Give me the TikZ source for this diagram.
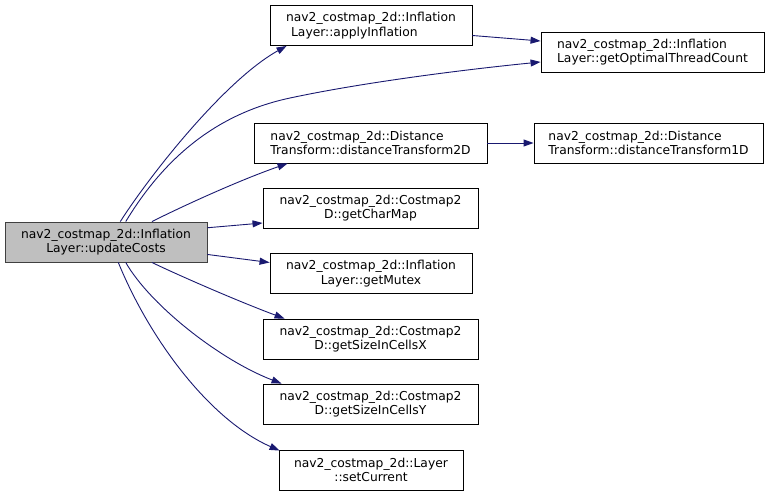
\documentclass[tikz,border=0pt]{standalone}
\usepackage{fontspec}
\setmainfont{DejaVu Sans}
\usetikzlibrary{arrows.meta}
\definecolor{edgeblue}{HTML}{191970}
\definecolor{mainfill}{HTML}{BFBFBF}
\definecolor{mainline}{HTML}{404040}
\begin{document}
\begin{tikzpicture}[x=1pt,y=-1pt,
  box/.style={draw=black,fill=white,line width=0.9pt,inner sep=0pt,
    font=\fontsize{12.3}{14.5}\selectfont},
  mainbox/.style={box,draw=mainline,fill=mainfill},
  edge/.style={draw=edgeblue,line width=0.9pt,-{Triangle[length=10pt,width=7pt]}}]
\useasboundingbox (0,0) rectangle (775,496);
% nodes
\node[mainbox,minimum width=202pt,minimum height=40pt,align=center] (main) at (106,242)
  {nav2\_costmap\_2d::Inflation\\Layer::updateCosts};
\node[box,minimum width=202pt,minimum height=40pt,align=left] (apply) at (371,25.5)
  {nav2\_costmap\_2d::Inflation\\\hspace{5pt}Layer::applyInflation};
\node[box,minimum width=223pt,minimum height=40pt,align=left] (opt) at (652.5,52)
  {nav2\_costmap\_2d::Inflation\\Layer::getOptimalThreadCount};
\node[box,minimum width=233pt,minimum height=40pt,align=left] (dtwo) at (370.5,143)
  {nav2\_costmap\_2d::Distance\\Transform::distanceTransform2D};
\node[box,minimum width=229pt,minimum height=40pt,align=left] (done) at (648.5,143)
  {nav2\_costmap\_2d::Distance\\Transform::distanceTransform1D};
\node[box,minimum width=215pt,minimum height=40pt,align=center] (charmap) at (370.5,208)
  {nav2\_costmap\_2d::Costmap2\\D::getCharMap};
\node[box,minimum width=202pt,minimum height=40pt,align=center] (mutex) at (371,273.5)
  {nav2\_costmap\_2d::Inflation\\Layer::getMutex};
\node[box,minimum width=215pt,minimum height=40pt,align=center] (sizex) at (370.5,339)
  {nav2\_costmap\_2d::Costmap2\\D::getSizeInCellsX};
\node[box,minimum width=215pt,minimum height=40pt,align=center] (sizey) at (370.5,404)
  {nav2\_costmap\_2d::Costmap2\\D::getSizeInCellsY};
\node[box,minimum width=184pt,minimum height=40pt,align=center] (setcur) at (371,470)
  {nav2\_costmap\_2d::Layer\\::setCurrent};
% edges
\draw[edge] (main.55) .. controls (150,175) and (225,80) .. ([xshift=17pt]apply.south west);
\draw[edge] (main.46) .. controls (160,165) and (210,115) .. (290,98)
  .. controls (360,83) and (460,70) .. ([yshift=-10pt]opt.west);
\draw[edge] (main.24) .. controls (185,205) and (240,180) .. ([xshift=34pt]dtwo.south west);
\draw[edge] (main.8) -- ([yshift=-15pt]charmap.west);
\draw[edge] (main.-7) -- ([yshift=11pt]mutex.west);
\draw[edge] (main.-24) .. controls (180,276) and (240,302) .. ([xshift=22pt]sizex.north west);
\draw[edge] (main.-46) .. controls (150,305) and (220,360) .. ([xshift=19pt]sizey.north west);
\draw[edge] (main.-59) .. controls (150,340) and (210,420) .. ([xshift=1pt,yshift=-1pt]setcur.north west);
\draw[edge] ([yshift=-10pt]apply.east) -- ([yshift=11pt]opt.west);
\draw[edge] (dtwo.east) -- (done.west);
\end{tikzpicture}
\end{document}
